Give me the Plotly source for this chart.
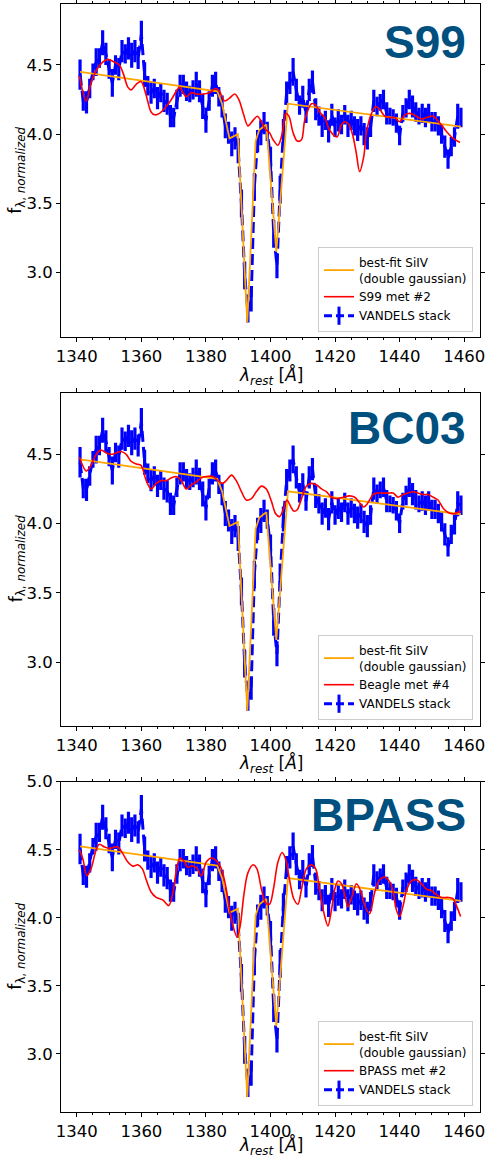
import plotly.graph_objects as go

# VANDELS stack (panel 1 normalisation), 1 A grid
wave = [1341, 1342, 1343, 1344, 1345, 1346, 1347, 1348, 1349, 1350,
        1351, 1352, 1353, 1354, 1355, 1356, 1357, 1358, 1359, 1360,
        1361, 1362, 1363, 1364, 1365, 1366, 1367, 1368, 1369, 1370,
        1371, 1372, 1373, 1374, 1375, 1376, 1377, 1378, 1379, 1380,
        1381, 1382, 1383, 1384, 1385, 1386, 1387, 1388, 1389, 1390,
        1391, 1392, 1393, 1394, 1395, 1396, 1397, 1398, 1399, 1400,
        1401, 1402, 1403, 1404, 1405, 1406, 1407, 1408, 1409, 1410,
        1411, 1412, 1413, 1414, 1415, 1416, 1417, 1418, 1419, 1420,
        1421, 1422, 1423, 1424, 1425, 1426, 1427, 1428, 1429, 1430,
        1431, 1432, 1433, 1434, 1435, 1436, 1437, 1438, 1439, 1440,
        1441, 1442, 1443, 1444, 1445, 1446, 1447, 1448, 1449, 1450,
        1451, 1452, 1453, 1454, 1455, 1456, 1457, 1458, 1459]
stack_flux = [4.43, 4.24, 4.23, 4.33, 4.45, 4.52, 4.55, 4.66, 4.58, 4.47,
              4.37, 4.50, 4.47, 4.60, 4.58, 4.62, 4.57, 4.60, 4.55, 4.72,
              4.43, 4.35, 4.30, 4.33, 4.26, 4.30, 4.24, 4.22, 4.13, 4.12,
              4.25, 4.35, 4.36, 4.31, 4.29, 4.32, 4.36, 4.31, 4.20, 4.10,
              4.24, 4.35, 4.37, 4.27, 4.20, 4.06, 4.01, 3.93, 3.97, 3.88,
              3.50, 2.98, 2.72, 2.80, 3.62, 3.95, 4.01, 4.08, 4.02, 3.82,
              3.28, 3.05, 3.60, 4.02, 4.30, 4.37, 4.45, 4.32, 4.21, 4.27,
              4.15, 4.32, 4.38, 4.18, 4.13, 4.06, 4.10, 4.02, 4.14, 4.05,
              4.10, 4.07, 4.14, 4.06, 4.10, 4.06, 4.03, 4.06, 4.00, 3.97,
              4.05, 4.24, 4.20, 4.23, 4.25, 4.15, 4.13, 4.12, 4.08, 3.99,
              4.15, 4.19, 4.25, 4.20, 4.16, 4.13, 4.15, 4.12, 4.15, 4.09,
              4.09, 4.06, 4.00, 3.91, 3.82, 3.91, 3.98, 4.13, 4.12]
stack_err = [0.11, 0.07, 0.08, 0.07, 0.06, 0.10, 0.07, 0.09, 0.08, 0.07,
             0.10, 0.07, 0.08, 0.08, 0.07, 0.08, 0.09, 0.08, 0.08, 0.10,
             0.09, 0.07, 0.08, 0.07, 0.08, 0.07, 0.08, 0.08, 0.08, 0.07,
             0.07, 0.08, 0.07, 0.07, 0.06, 0.07, 0.09, 0.08, 0.09, 0.09,
             0.07, 0.08, 0.08, 0.07, 0.08, 0.09, 0.08, 0.09, 0.08, 0.09,
             0.10, 0.10, 0.08, 0.08, 0.10, 0.08, 0.09, 0.08, 0.07, 0.09,
             0.10, 0.09, 0.10, 0.09, 0.08, 0.08, 0.10, 0.08, 0.07, 0.08,
             0.07, 0.08, 0.08, 0.08, 0.07, 0.08, 0.07, 0.08, 0.08, 0.07,
             0.08, 0.07, 0.07, 0.08, 0.07, 0.07, 0.08, 0.07, 0.08, 0.08,
             0.07, 0.08, 0.07, 0.06, 0.07, 0.08, 0.06, 0.06, 0.07, 0.07,
             0.06, 0.07, 0.07, 0.08, 0.07, 0.06, 0.07, 0.07, 0.07, 0.07,
             0.07, 0.07, 0.07, 0.08, 0.07, 0.07, 0.07, 0.09, 0.07]

# each panel is normalised to its own model
panel_norm = [1.0, 1.003, 1.017]

# best-fit SiIV double gaussian on a linear continuum (panel 1 normalisation)
fit_wave = [1341.0, 1383.5, 1385.0, 1387.3, 1389.9, 1392.8, 1395.4, 1396.5,
            1398.7, 1401.8, 1405.4, 1459.0]
fit_flux = [4.45, 4.31, 4.22, 3.97, 4.00, 2.64, 3.95, 4.03,
            4.07, 3.15, 4.22, 4.055]

# S99 met #2
s99_wave = [1340.8, 1342.9, 1344.4, 1346.0, 1348.0, 1349.6, 1351.7, 1353.2, 1354.5, 1355.8,
            1356.8, 1358.4, 1359.9, 1361.5, 1363.0, 1364.1, 1365.6, 1367.7, 1369.3, 1370.8,
            1371.8, 1372.9, 1373.9, 1375.5, 1377.0, 1379.1, 1381.1, 1383.0, 1384.2, 1385.8,
            1387.3, 1388.9, 1390.2, 1391.7, 1393.0, 1394.6, 1395.9, 1397.2, 1398.2, 1399.7,
            1400.8, 1402.3, 1403.7, 1404.7, 1405.7, 1407.0, 1408.3, 1409.6, 1410.6, 1412.7,
            1414.0, 1415.2, 1416.8, 1418.3, 1420.6, 1422.0, 1423.0, 1424.3, 1425.6, 1426.6,
            1427.6, 1428.9, 1429.7, 1431.3, 1432.6, 1433.8, 1435.4, 1437.0, 1438.5, 1440.0,
            1441.6, 1443.2, 1445.2, 1446.8, 1448.3, 1450.4, 1452.5, 1454.5, 1456.6, 1458.7]
s99_flux = [4.42, 4.24, 4.37, 4.46, 4.52, 4.54, 4.52, 4.50, 4.43, 4.34,
            4.32, 4.36, 4.38, 4.28, 4.16, 4.14, 4.15, 4.20, 4.25, 4.31,
            4.34, 4.30, 4.27, 4.30, 4.29, 4.29, 4.30, 4.33, 4.31, 4.24,
            4.26, 4.29, 4.25, 4.14, 4.06, 4.10, 4.13, 4.09, 4.04, 4.01,
            3.96, 3.92, 4.01, 4.15, 4.13, 4.01, 3.95, 3.96, 4.10, 4.22,
            4.21, 4.16, 4.12, 4.03, 3.98, 4.07, 4.09, 4.07, 3.98, 3.86,
            3.73, 3.84, 4.01, 4.15, 4.20, 4.18, 4.13, 4.12, 4.12, 4.09,
            4.14, 4.15, 4.13, 4.11, 4.12, 4.13, 4.08, 4.02, 3.97, 3.94]

# Beagle met #4
bc03_wave = [1340.8, 1342.9, 1344.4, 1346.0, 1347.5, 1349.1, 1350.6, 1352.2, 1353.7, 1355.3,
             1356.8, 1358.4, 1359.9, 1361.5, 1363.0, 1364.6, 1366.1, 1367.7, 1369.3, 1370.8,
             1372.4, 1373.9, 1375.5, 1377.0, 1378.6, 1380.1, 1382.2, 1383.7, 1385.1, 1386.3,
             1387.9, 1389.4, 1391.0, 1392.5, 1394.1, 1395.6, 1397.2, 1398.7, 1400.3, 1401.6,
             1402.8, 1404.1, 1405.1, 1406.1, 1407.2, 1408.3, 1409.6, 1411.1, 1412.7, 1414.2,
             1415.8, 1417.3, 1418.9, 1420.4, 1422.5, 1424.5, 1426.1, 1427.6, 1428.9, 1430.2,
             1431.8, 1433.3, 1434.9, 1436.4, 1438.0, 1439.5, 1441.1, 1442.6, 1444.2, 1445.7,
             1447.3, 1448.8, 1450.4, 1451.9, 1453.5, 1455.0, 1456.6, 1458.1, 1458.9]
bc03_flux = [4.48, 4.38, 4.42, 4.50, 4.53, 4.51, 4.50, 4.51, 4.52, 4.50,
             4.45, 4.43, 4.42, 4.31, 4.25, 4.29, 4.31, 4.31, 4.33, 4.34,
             4.31, 4.25, 4.28, 4.30, 4.33, 4.34, 4.34, 4.31, 4.29, 4.31,
             4.35, 4.31, 4.23, 4.17, 4.18, 4.23, 4.27, 4.25, 4.16, 4.07,
             4.05, 4.11, 4.17, 4.13, 4.09, 4.10, 4.18, 4.27, 4.29, 4.28,
             4.25, 4.23, 4.19, 4.18, 4.19, 4.20, 4.19, 4.15, 4.12, 4.15,
             4.21, 4.22, 4.22, 4.22, 4.22, 4.19, 4.21, 4.22, 4.23, 4.22,
             4.21, 4.21, 4.19, 4.17, 4.11, 4.08, 4.07, 4.08, 4.09]

# BPASS met #2
bpass_wave = [1340.8, 1341.9, 1343.1, 1344.4, 1346.0, 1347.0, 1348.6, 1350.1, 1351.7, 1352.7,
              1354.3, 1355.8, 1357.4, 1358.9, 1360.3, 1361.5, 1363.0, 1364.6, 1366.7, 1368.5,
              1369.8, 1371.0, 1372.0, 1373.4, 1374.4, 1375.5, 1377.0, 1378.6, 1380.1, 1381.7,
              1383.2, 1384.8, 1386.3, 1387.3, 1388.4, 1389.6, 1390.6, 1391.7, 1393.0, 1394.6,
              1395.8, 1397.2, 1398.5, 1399.7, 1400.9, 1402.3, 1403.6, 1404.7, 1405.9, 1407.2,
              1408.5, 1409.6, 1411.1, 1412.7, 1414.0, 1415.2, 1416.5, 1417.8, 1418.9, 1419.9,
              1420.9, 1422.0, 1423.0, 1424.0, 1425.3, 1426.6, 1427.9, 1429.2, 1430.7, 1432.3,
              1433.8, 1435.4, 1437.0, 1438.0, 1439.0, 1440.0, 1441.1, 1442.1, 1443.6, 1445.2,
              1446.8, 1448.3, 1449.9, 1451.4, 1453.0, 1455.0, 1456.6, 1457.6, 1458.9]
bpass_flux = [4.50, 4.43, 4.31, 4.36, 4.50, 4.54, 4.52, 4.51, 4.52, 4.52,
              4.47, 4.41, 4.38, 4.39, 4.36, 4.28, 4.19, 4.15, 4.13, 4.09,
              4.19, 4.37, 4.44, 4.41, 4.37, 4.38, 4.37, 4.31, 4.41, 4.44,
              4.42, 4.36, 4.21, 4.06, 3.94, 3.86, 3.94, 4.16, 4.33, 4.39,
              4.36, 4.21, 4.11, 4.10, 4.21, 4.41, 4.48, 4.43, 4.28, 4.14,
              4.10, 4.21, 4.36, 4.39, 4.36, 4.21, 4.04, 3.94, 4.06, 4.21,
              4.27, 4.25, 4.17, 4.08, 4.16, 4.25, 4.20, 4.09, 4.03, 4.19,
              4.28, 4.30, 4.26, 4.19, 4.06, 4.01, 4.09, 4.20, 4.27, 4.28,
              4.25, 4.21, 4.20, 4.17, 4.15, 4.15, 4.14, 4.09, 4.01]

panel_titles = ["S99", "BC03", "BPASS"]
model_labels = ["S99 met #2", "Beagle met #4", "BPASS met #2"]
model_waves = [s99_wave, bc03_wave, bpass_wave]
model_fluxes = [s99_flux, bc03_flux, bpass_flux]

W, H = 487, 1157
# panel frames in pixels (left, right, top, bottom) and y ranges
x_px = (61, 480)
panels_px = [(4.3, 337.3), (392.7, 725.7), (781.7, 1111.7)]
y_ranges = [[2.533, 4.938], [2.540, 4.945], [2.576, 5.0]]
legend_bottom_px = [332, 720, 1106]
title_mid_px = [42, 428, 815]
xlabel_mid_px = [376, 764, 1146]

BLUE = "#0000ff"
TITLE_COLOR = "#00507f"
FONT = "DejaVu Sans, sans-serif"

fig = go.Figure()

for i in range(3):
    n = "" if i == 0 else str(i + 1)
    xa, ya = "x" + n, "y" + n
    leg = "legend" + n
    k = panel_norm[i]
    flux = [v * k for v in stack_flux]
    err = [e * k for e in stack_err]
    fit = [v * k for v in fit_flux]

    fig.add_trace(go.Scatter(
        x=wave, y=flux, mode="lines", xaxis=xa, yaxis=ya,
        line=dict(color=BLUE, width=3, dash="11px,5px"),
        error_y=dict(type="data", array=err, color=BLUE, thickness=3.2, width=0),
        showlegend=False, hoverinfo="skip"))
    fig.add_trace(go.Scatter(
        x=fit_wave, y=fit, mode="lines", xaxis=xa, yaxis=ya,
        line=dict(color="orange", width=1.8),
        name="best-fit SiIV<br>(double gaussian)", legend=leg))
    fig.add_trace(go.Scatter(
        x=model_waves[i], y=model_fluxes[i], mode="lines", xaxis=xa, yaxis=ya,
        line=dict(color="red", width=1.6, shape="spline", smoothing=0.9),
        name=model_labels[i], legend=leg))
    # legend entry for the errorbar series
    fig.add_trace(go.Scatter(
        x=[None], y=[None], mode="lines+markers", xaxis=xa, yaxis=ya,
        line=dict(color=BLUE, width=3, dash="8px,4px"),
        marker=dict(symbol="line-ns", size=13, line=dict(color=BLUE, width=3)),
        name="VANDELS stack", legend=leg))

    top, bot = panels_px[i]
    dom_y = [1 - bot / H, 1 - top / H]
    axis_common = dict(showline=True, linecolor="black", linewidth=1, mirror="ticks",
                       ticks="outside", ticklen=4, tickcolor="black", showgrid=False,
                       zeroline=False, tickfont=dict(family=FONT, size=16.5, color="black"),
                       automargin=False)
    fig.update_layout(**{
        "xaxis" + n: dict(domain=[x_px[0] / W, x_px[1] / W], anchor=ya,
                          range=[1335.1, 1464.9], tick0=1340, dtick=20,
                          minor=dict(dtick=5, ticks="outside", ticklen=2, tickcolor="black"),
                          **axis_common),
        "yaxis" + n: dict(domain=dom_y, anchor=xa, range=y_ranges[i],
                          tick0=3.0, dtick=0.5, tickformat=".1f", **axis_common),
        leg: dict(x=473 / W, xanchor="right", y=1 - legend_bottom_px[i] / H, yanchor="bottom",
                  bgcolor="rgba(255,255,255,0.85)", bordercolor="#cccccc", borderwidth=1,
                  font=dict(family=FONT, size=12, color="black"),
                  tracegroupgap=2, itemwidth=30),
    })

    fig.add_annotation(text="<b>" + panel_titles[i] + "</b>", xref="paper", yref="paper",
                       x=468 / W, y=1 - title_mid_px[i] / H, xanchor="right", yanchor="middle",
                       showarrow=False,
                       font=dict(family="Liberation Sans, Arial, sans-serif", size=46,
                                 color=TITLE_COLOR))
    fig.add_annotation(text="<i>λ</i><sub><i>rest</i></sub> [<i>Å</i>]", xref="paper", yref="paper",
                       x=(x_px[0] + x_px[1]) / 2 / W, y=1 - xlabel_mid_px[i] / H,
                       xanchor="center", yanchor="middle", showarrow=False,
                       font=dict(family=FONT, size=17, color="black"))
    fig.add_annotation(text="f<sub>λ, <i>normalized</i></sub>", xref="paper", yref="paper",
                       x=17 / W, y=1 - (top + bot) / 2 / H, textangle=-90,
                       xanchor="center", yanchor="middle", showarrow=False,
                       font=dict(family=FONT, size=17, color="black"))

fig.update_layout(width=W, height=H, margin=dict(l=0, r=0, t=0, b=0),
                  paper_bgcolor="white", plot_bgcolor="white",
                  font=dict(family=FONT, color="black"))

# drop the default page margin so the 487x1157 figure fills the window exactly
fig.write_html("out.html", config={"displayModeBar": False},
               post_script="document.body.style.margin='0';"
                           "document.body.style.overflow='hidden';")
